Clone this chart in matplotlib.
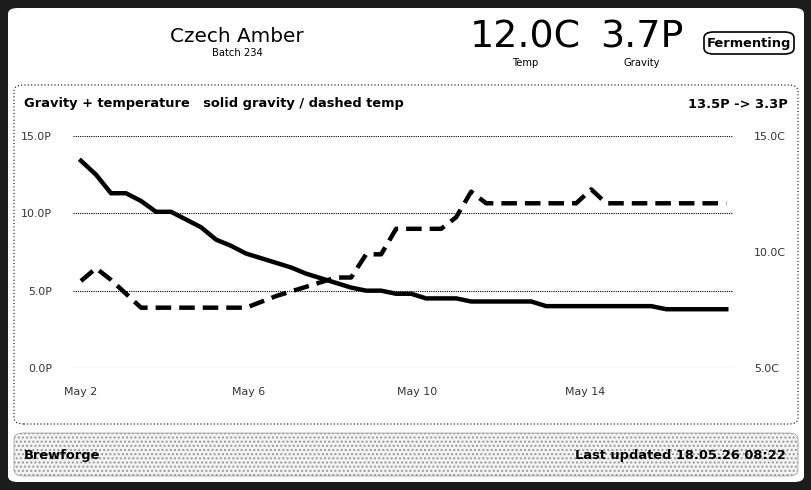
import numpy as np
import matplotlib
matplotlib.use("Agg")
import matplotlib.pyplot as plt
from matplotlib.patches import FancyBboxPatch

# --- DATA ---
day_offsets = np.linspace(0, 15.36, 44)  # days since May 2, ~8.4h samples
gravity = [13.4, 12.5, 11.3, 11.3, 10.8, 10.1, 10.1, 9.6, 9.1, 8.3, 7.9, 7.4,
           7.1, 6.8, 6.5, 6.1, 5.8, 5.5, 5.2, 5.0, 5.0, 4.8, 4.8, 4.5, 4.5, 4.5,
           4.3, 4.3, 4.3, 4.3, 4.3, 4.0, 4.0, 4.0, 4.0, 4.0, 4.0, 4.0, 4.0,
           3.8, 3.8, 3.8, 3.8, 3.8]
temp = [8.75, 9.3, 8.8, 8.2, 7.6, 7.6, 7.6, 7.6, 7.6, 7.6, 7.6, 7.6,
        7.85, 8.1, 8.3, 8.5, 8.7, 8.9, 8.9, 9.9, 9.9, 11.0, 11.0, 11.0, 11.0,
        11.5, 12.6, 12.1, 12.1, 12.1, 12.1, 12.1, 12.1, 12.1, 12.7, 12.1,
        12.1, 12.1, 12.1, 12.1, 12.1, 12.1, 12.1, 12.1]
xtick_days = [0, 4, 8, 12]
xtick_labels = ["May 2", "May 6", "May 10", "May 14"]
g_ticks = [0, 5, 10, 15]
t_ticks = [5, 10, 15]

W, H = 812, 490
FONT = "DejaVu Sans"

def px(v):
    return v * 0.72  # pixel height -> points at dpi 100

fig = plt.figure(figsize=(W / 100, H / 100), dpi=100)
fig.patch.set_facecolor("#1c1c1c")

def box(x0, y0, x1, y1, **kw):
    p = FancyBboxPatch((x0 / W, 1 - y1 / H), (x1 - x0) / W, (y1 - y0) / H,
                       boxstyle="round,pad=0,rounding_size=0.012",
                       transform=fig.transFigure, zorder=-5, **kw)
    fig.add_artist(p)

def txt(x, y, s, size, **kw):
    fig.text(x / W, 1 - y / H, s, fontsize=px(size), family=FONT, **kw)

# panels
box(8, 8, 804, 482, facecolor="white", edgecolor="none")
box(14, 85, 798, 424, facecolor="white", edgecolor="black", linestyle=(0, (1, 2)), lw=0.8)
box(14, 433, 798, 476, facecolor="#f4f4f4", edgecolor="#999999", hatch="....", lw=0.5)
box(704, 32, 794, 54, facecolor="white", edgecolor="black", lw=1.2)

# header
txt(237, 36, "Czech Amber", 20, ha="center", va="center")
txt(237, 53, "Batch 234", 10, ha="center", va="center")
txt(525, 37, "12.0C", 38, ha="center", va="center")
txt(642, 37, "3.7P", 38, ha="center", va="center")
txt(525, 63, "Temp", 10, ha="center", va="center")
txt(642, 63, "Gravity", 10, ha="center", va="center")
txt(749, 43, "Fermenting", 13, ha="center", va="center", weight="bold")

txt(24, 104, "Gravity + temperature   solid gravity / dashed temp", 13,
    ha="left", va="center", weight="bold")
txt(788, 104, "13.5P -> 3.3P", 13, ha="right", va="center", weight="bold")

txt(24, 455, "Brewforge", 13, ha="left", va="center", weight="bold")
txt(786, 455, "Last updated 18.05.26 08:22", 13, ha="right", va="center", weight="bold")

# chart
ax = fig.add_axes([73 / W, 1 - 368 / H, 660 / W, 232 / H])
ax.set_facecolor("none")
ax.plot(day_offsets, gravity, color="black", lw=3.2, solid_joinstyle="miter")
ax.set_xlim(-0.19, 15.52)
ax.set_ylim(0, 15)
ax.set_yticks(g_ticks)
ax.set_yticklabels([f"{v:.1f}P" for v in g_ticks])
ax.set_xticks(xtick_days)
ax.set_xticklabels(xtick_labels)
ax.grid(axis="y", color="black", linestyle=(0, (1, 1)), lw=0.8)
for s in ax.spines.values():
    s.set_visible(False)
ax.tick_params(length=0, labelsize=px(11), colors="#333333", pad=14)
ax.tick_params(axis="y", pad=15)

ax2 = ax.twinx()
ax2.plot(day_offsets, temp, color="black", lw=3.2, dashes=(3.5, 1.8))
ax2.set_ylim(5, 15)
ax2.set_yticks(t_ticks)
ax2.set_yticklabels([f"{v:.1f}C" for v in t_ticks])
for s in ax2.spines.values():
    s.set_visible(False)
ax2.tick_params(length=0, labelsize=px(11), colors="#333333", pad=15)

fig.savefig("out.png", dpi=100, facecolor=fig.get_facecolor())
